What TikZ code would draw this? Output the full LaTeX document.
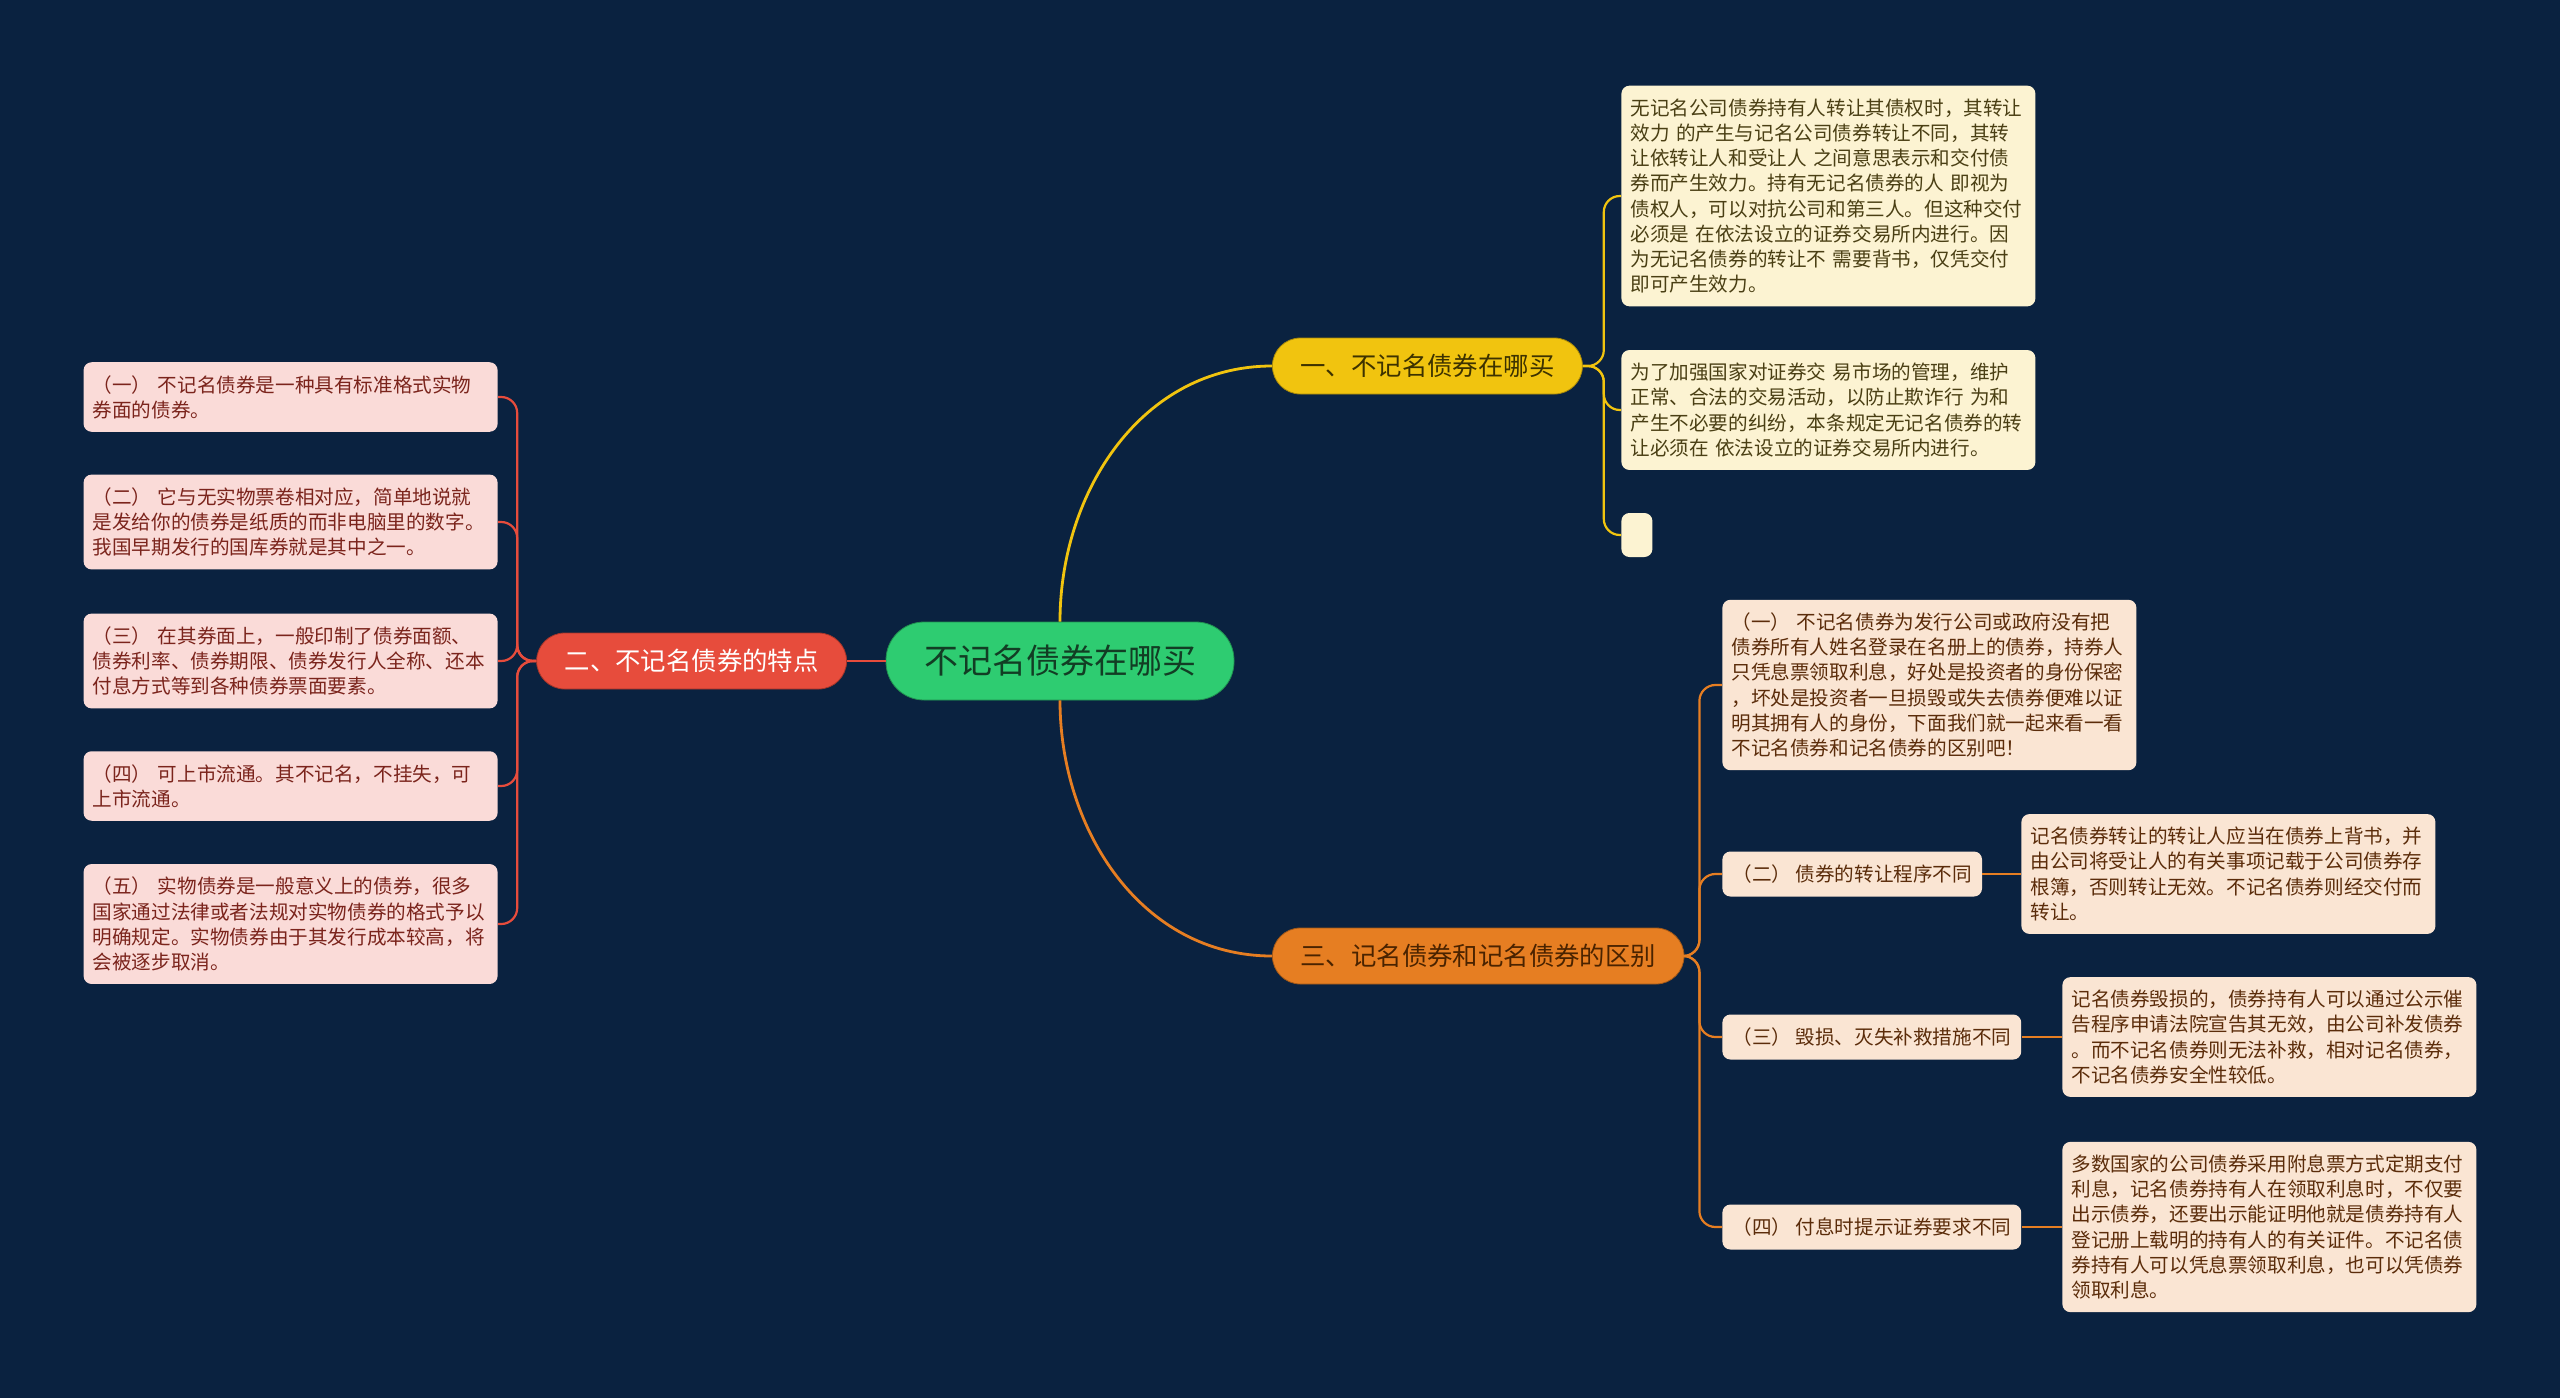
\documentclass[tikz,border=0pt]{standalone}
\usepackage{fontspec}
\setmainfont{Noto Sans CJK SC}
\definecolor{navybg}{HTML}{0A2240}
\definecolor{rootgreen}{HTML}{2ECC71}
\definecolor{rootink}{HTML}{123D24}
\definecolor{ylw}{HTML}{F1C40F}
\definecolor{ylwink}{HTML}{3D3200}
\definecolor{ylwpale}{HTML}{FCF3D2}
\definecolor{ylwtext}{HTML}{4A3F14}
\definecolor{rd}{HTML}{E74C3C}
\definecolor{rdpale}{HTML}{FADBD8}
\definecolor{rdtext}{HTML}{7B241C}
\definecolor{org}{HTML}{E67E22}
\definecolor{orgink}{HTML}{4A2300}
\definecolor{orgpale}{HTML}{FAE5D3}
\definecolor{orgtext}{HTML}{5B2C0A}
\usetikzlibrary{positioning}
\tikzset{
  rootnode/.style={
    fill=rootgreen, draw=rootgreen!70!black, text=rootink,
    rounded corners=19pt, minimum height=39pt, inner xsep=19pt,
    font=\fontsize{17}{20}\selectfont
  },
  topicbox/.style={
    fill=#1, draw=#1!70!black, rounded corners=14pt,
    minimum height=28pt, inner xsep=14pt,
    font=\fontsize{12.7}{15}\selectfont
  },
  leafbox/.style={
    fill=#1, rounded corners=4pt, text width=198pt,
    inner xsep=4.5pt, inner ysep=6.5pt, align=left,
    font=\fontsize{9.8}{12.6}\selectfont
  },
  subtag/.style={
    fill=#1, rounded corners=4pt, minimum height=22.5pt,
    inner xsep=5pt, font=\fontsize{9.8}{12}\selectfont
  },
  link/.style={line width=1.4pt, draw=#1},
  twig/.style={line width=1.1pt, draw=#1, rounded corners=8pt},
}
\begin{document}
\begin{tikzpicture}[x=0.5pt, y=-0.5pt]
  \fill[navybg] (0,0) rectangle (2560,1398);

  % centre and main topics
  \node[rootnode] (root) at (1060,661) {不记名债券在哪买};
  \node[topicbox=ylw, text=ylwink, anchor=west] (buy) at (1272,366) {一、不记名债券在哪买};
  \node[topicbox=rd, text=white, anchor=east] (trait) at (847,661) {二、不记名债券的特点};
  \node[topicbox=org, text=orgink, anchor=west] (diff) at (1272,956) {三、记名债券和记名债券的区别};

  % where to buy
  \node[leafbox=ylwpale, text=ylwtext, anchor=west] (buya) at (1621,196) {无记名公司债券持有人转让其债权时，其转让\\效力 的产生与记名公司债券转让不同，其转\\让依转让人和受让人 之间意思表示和交付债\\券而产生效力。持有无记名债券的人 即视为\\债权人，可以对抗公司和第三人。但这种交付\\必须是 在依法设立的证券交易所内进行。因\\为无记名债券的转让不 需要背书，仅凭交付\\即可产生效力。};
  \node[leafbox=ylwpale, text=ylwtext, anchor=west] (buyb) at (1621,410) {为了加强国家对证券交 易市场的管理，维护\\正常、合法的交易活动，以防止欺诈行 为和\\产生不必要的纠纷，本条规定无记名债券的转\\让必须在 依法设立的证券交易所内进行。};
  \node[fill=ylwpale, rounded corners=4pt, minimum width=15.5pt, minimum height=22pt, inner sep=0pt, anchor=west] (buyc) at (1621,535) {};

  % traits
  \node[leafbox=rdpale, text=rdtext, anchor=east] (ta) at (498,397) {（一） 不记名债券是一种具有标准格式实物\\券面的债券。};
  \node[leafbox=rdpale, text=rdtext, anchor=east] (tb) at (498,522) {（二） 它与无实物票卷相对应，简单地说就\\是发给你的债券是纸质的而非电脑里的数字。\\我国早期发行的国库券就是其中之一。};
  \node[leafbox=rdpale, text=rdtext, anchor=east] (tc) at (498,661) {（三） 在其券面上，一般印制了债券面额、\\债券利率、债券期限、债券发行人全称、还本\\付息方式等到各种债券票面要素。};
  \node[leafbox=rdpale, text=rdtext, anchor=east] (td) at (498,786) {（四） 可上市流通。其不记名，不挂失，可\\上市流通。};
  \node[leafbox=rdpale, text=rdtext, anchor=east] (te) at (498,924) {（五） 实物债券是一般意义上的债券，很多\\国家通过法律或者法规对实物债券的格式予以\\明确规定。实物债券由于其发行成本较高，将\\会被逐步取消。};

  % differences
  \node[leafbox=orgpale, text=orgtext, anchor=west] (da) at (1722,685) {（一） 不记名债券为发行公司或政府没有把\\债券所有人姓名登录在名册上的债券，持券人\\只凭息票领取利息，好处是投资者的身份保密\\，坏处是投资者一旦损毁或失去债券便难以证\\明其拥有人的身份，下面我们就一起来看一看\\不记名债券和记名债券的区别吧！};
  \node[subtag=orgpale, text=orgtext, anchor=west] (db) at (1722,874) {（二） 债券的转让程序不同};
  \node[subtag=orgpale, text=orgtext, anchor=west] (dc) at (1722,1037) {（三） 毁损、灭失补救措施不同};
  \node[subtag=orgpale, text=orgtext, anchor=west] (dd) at (1722,1227) {（四） 付息时提示证券要求不同};
  \node[leafbox=orgpale, text=orgtext, anchor=west] (dbx) at (2021,874) {记名债券转让的转让人应当在债券上背书，并\\由公司将受让人的有关事项记载于公司债券存\\根簿，否则转让无效。不记名债券则经交付而\\转让。};
  \node[leafbox=orgpale, text=orgtext, anchor=west] (dcx) at (2062,1037) {记名债券毁损的，债券持有人可以通过公示催\\告程序申请法院宣告其无效，由公司补发债券\\。而不记名债券则无法补救，相对记名债券，\\不记名债券安全性较低。};
  \node[leafbox=orgpale, text=orgtext, anchor=west] (ddx) at (2062,1227) {多数国家的公司债券采用附息票方式定期支付\\利息，记名债券持有人在领取利息时，不仅要\\出示债券，还要出示能证明他就是债券持有人\\登记册上载明的持有人的有关证件。不记名债\\券持有人可以凭息票领取利息，也可以凭债券\\领取利息。};

  % connectors
  \draw[link=ylw] (root.north) to[out=90, in=180] (buy.west);
  \draw[link=org] (root.south) to[out=-90, in=180] (diff.west);
  \draw[link=rd] (root.west) -- (trait.east);

  \foreach \kid in {buya, buyb, buyc}
    \draw[twig=ylw] (buy.east) -- ++(21,0) |- (\kid.west);
  \foreach \kid in {ta, tb, tc, td, te}
    \draw[twig=rd] (trait.west) -- ++(-19,0) |- (\kid.east);
  \foreach \kid in {da, db, dc, dd}
    \draw[twig=org] (diff.east) -- ++(15,0) |- (\kid.west);

  \draw[twig=org] (db.east) -- (dbx.west);
  \draw[twig=org] (dc.east) -- (dcx.west);
  \draw[twig=org] (dd.east) -- (ddx.west);
\end{tikzpicture}
\end{document}
